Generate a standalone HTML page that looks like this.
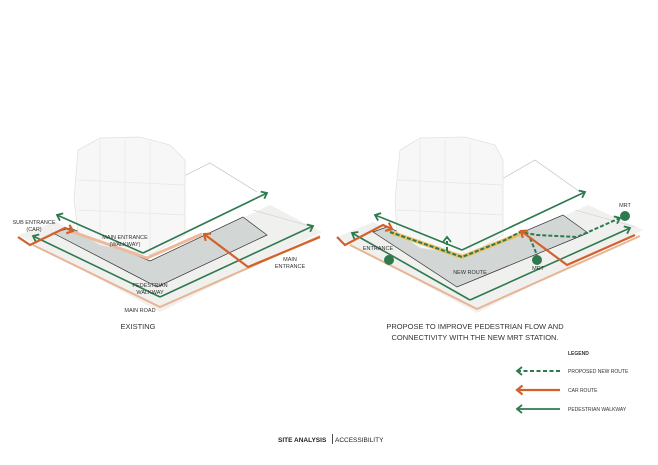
<!DOCTYPE html>
<html><head><meta charset="utf-8"><style>
html,body{margin:0;padding:0;background:#fff;}
svg{display:block;font-family:"Liberation Sans",sans-serif;}
</style></head><body>
<svg width="658" height="465" viewBox="0 0 658 465" xmlns="http://www.w3.org/2000/svg">
<defs>
<marker id="ag" markerWidth="12" markerHeight="12" refX="7" refY="6" orient="auto" markerUnits="userSpaceOnUse"><path d="M2,2 L7,6 L2,10" fill="none" stroke="#2e7a4e" stroke-width="1.8"/></marker>
<marker id="ao" markerWidth="12" markerHeight="12" refX="7" refY="6" orient="auto" markerUnits="userSpaceOnUse"><path d="M1.5,1.5 L7,6 L1.5,10.5" fill="none" stroke="#d4612c" stroke-width="2.2"/></marker>
</defs>

<!-- LEFT -->
<polygon points="18,235 55,222 150,262 270,205 322,232 160,312" fill="#f0f0ef"/>
<polyline points="170,183 210,163 257,192" fill="none" stroke="#bbb" stroke-width="0.6"/>
<polyline points="253,210 313,227" fill="none" stroke="#ccc" stroke-width="0.6"/>
<polygon points="53,233 70,228 150,261 243,217 267,235 157,287" fill="#d2d6d5" stroke="#333" stroke-width="0.7"/>
<polygon points="78,150 100,138 140,137 170,145 185,160 185,235 150,255 100,245 78,232 74,200" fill="#f7f7f7" stroke="#e2e2e2" stroke-width="0.8"/>
<g stroke="#e6e6e6" stroke-width="0.7"><line x1="100" y1="140" x2="100" y2="245"/><line x1="125" y1="140" x2="125" y2="250"/><line x1="150" y1="142" x2="150" y2="255"/><line x1="78" y1="180" x2="185" y2="185"/><line x1="78" y1="210" x2="185" y2="215"/></g>
<polyline points="33,245 160,307 320,236" fill="none" stroke="#e8b594" stroke-width="2"/>
<polyline points="70,231 147,258 202,234" fill="none" stroke="#eeb99a" stroke-width="3"/>
<polyline points="160,297 33,236" fill="none" stroke="#2e7a4e" stroke-width="1.6" marker-end="url(#ag)"/>
<polyline points="160,297 313,226" fill="none" stroke="#2e7a4e" stroke-width="1.6" marker-end="url(#ag)"/>
<polyline points="143,253 57,215" fill="none" stroke="#2e7a4e" stroke-width="1.6" marker-end="url(#ag)"/>
<polyline points="143,253 267,193" fill="none" stroke="#2e7a4e" stroke-width="1.6" marker-end="url(#ag)"/>
<polyline points="18,237 30,245 65,228 73,231" fill="none" stroke="#d4612c" stroke-width="2.2" marker-end="url(#ao)"/>
<polyline points="320,237 248,267 204,234" fill="none" stroke="#d4612c" stroke-width="2.2" marker-end="url(#ao)"/>
<g font-size="5.5" fill="#333" text-anchor="middle">
<text x="34" y="224">SUB ENTRANCE</text><text x="34" y="231">(CAR)</text>
<text x="125" y="239">MAIN ENTRANCE</text><text x="125" y="246">(WALKWAY)</text>
<text x="150" y="287">PEDESTRIAN</text><text x="150" y="294">WALKWAY</text>
<text x="140" y="312">MAIN ROAD</text>
<text x="290" y="261">MAIN</text><text x="290" y="268">ENTRANCE</text>
</g>
<text x="138" y="329" font-size="7.5" fill="#333" text-anchor="middle">EXISTING</text>

<!-- RIGHT -->
<polygon points="337,237 373,222 462,262 588,205 643,230 477,313" fill="#f0f0ef"/>
<polyline points="495,183 535,160 580,192" fill="none" stroke="#bbb" stroke-width="0.6"/>
<polyline points="575,210 636,227" fill="none" stroke="#ccc" stroke-width="0.6"/>
<polygon points="373,232 387,227 462,258 563,215 588,233 457,287" fill="#d2d6d5" stroke="#333" stroke-width="0.7"/>
<polygon points="400,150 420,138 465,137 495,145 503,160 503,235 470,255 420,248 397,232 395,200" fill="#f7f7f7" stroke="#e2e2e2" stroke-width="0.8"/>
<g stroke="#e6e6e6" stroke-width="0.7"><line x1="420" y1="140" x2="420" y2="248"/><line x1="445" y1="140" x2="445" y2="252"/><line x1="470" y1="142" x2="470" y2="255"/><line x1="397" y1="180" x2="503" y2="185"/><line x1="397" y1="210" x2="503" y2="215"/></g>
<polyline points="350,245 477,309 640,236" fill="none" stroke="#e8b594" stroke-width="2"/>
<polyline points="470,300 352,233" fill="none" stroke="#2e7a4e" stroke-width="1.6" marker-end="url(#ag)"/>
<polyline points="470,300 630,228" fill="none" stroke="#2e7a4e" stroke-width="1.6" marker-end="url(#ag)"/>
<polyline points="462,250 375,215" fill="none" stroke="#2e7a4e" stroke-width="1.6" marker-end="url(#ag)"/>
<polyline points="462,250 585,192" fill="none" stroke="#2e7a4e" stroke-width="1.6" marker-end="url(#ag)"/>
<polyline points="390,232 462,257 525,232" fill="none" stroke="#e8c060" stroke-width="4"/>
<polyline points="390,232 462,257 505,240 520,232 537,235 577,237 620,218" fill="none" stroke="#2e7a4e" stroke-width="2" stroke-dasharray="4,2" marker-end="url(#ag)"/>
<polyline points="530,238 537,255" fill="none" stroke="#2e7a4e" stroke-width="2" stroke-dasharray="4,2"/>
<polyline points="447,251 447,237" fill="none" stroke="#2e7a4e" stroke-width="2" stroke-dasharray="4,2" marker-end="url(#ag)"/>
<polyline points="337,237 345,245 383,225 392,229" fill="none" stroke="#d4612c" stroke-width="2.2" marker-end="url(#ao)"/>
<polyline points="635,235 567,265 521,231" fill="none" stroke="#d4612c" stroke-width="2.2" marker-end="url(#ao)"/>
<circle cx="389" cy="260" r="5" fill="#2e7a4e"/>
<circle cx="537" cy="260" r="5" fill="#2e7a4e"/>
<circle cx="625" cy="216" r="5" fill="#2e7a4e"/>
<g font-size="5.5" fill="#333" text-anchor="middle">
<text x="378" y="250">ENTRANCE</text>
<text x="470" y="274">NEW ROUTE</text>
<text x="538" y="270">MRT</text>
<text x="625" y="207">MRT</text>
</g>
<text x="475" y="329" font-size="7.5" fill="#333" text-anchor="middle">PROPOSE TO IMPROVE PEDESTRIAN FLOW AND</text>
<text x="475" y="340" font-size="7.5" fill="#333" text-anchor="middle">CONNECTIVITY WITH THE NEW MRT  STATION.</text>

<!-- LEGEND -->
<text x="568" y="355" font-size="5" font-weight="bold" fill="#333">LEGEND</text>
<line x1="560" y1="371" x2="517" y2="371" stroke="#2e7a4e" stroke-width="2" stroke-dasharray="4,2.5" marker-end="url(#ag)"/>
<line x1="560" y1="390" x2="517" y2="390" stroke="#d4612c" stroke-width="2.2" marker-end="url(#ao)"/>
<line x1="560" y1="409" x2="517" y2="409" stroke="#2e7a4e" stroke-width="1.8" marker-end="url(#ag)"/>
<g font-size="5" fill="#333"><text x="568" y="373">PROPOSED NEW ROUTE</text><text x="568" y="392">CAR ROUTE</text><text x="568" y="411">PEDESTRIAN WALKWAY</text></g>

<text x="278" y="442" font-size="6.5" font-weight="bold" fill="#222">SITE ANALYSIS</text>
<line x1="332.5" y1="434" x2="332.5" y2="444" stroke="#222" stroke-width="0.8"/>
<text x="335" y="442" font-size="6.5" fill="#222">ACCESSIBILITY</text>
</svg>
</body></html>
